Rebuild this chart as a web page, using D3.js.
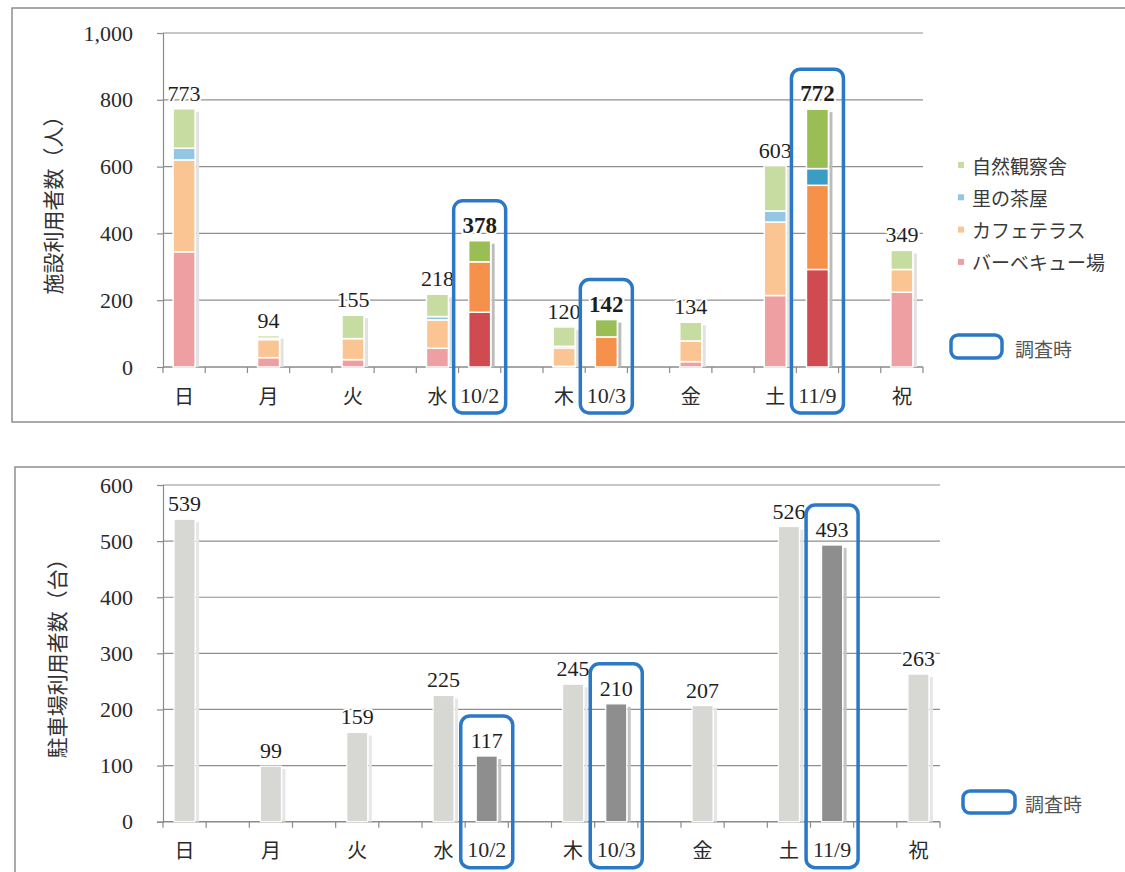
<!DOCTYPE html>
<html><head><meta charset="utf-8">
<script src="https://cdn.jsdelivr.net/npm/d3@7"></script>
<style>body{margin:0;background:#fff} svg{display:block}</style>
</head><body>
<svg id="c" width="1125" height="872"></svg>
<script>
// ---------- data ----------
const slotLabels = ["日","","月","","火","","水","10/2","","木","10/3","","金","","土","11/9","","祝"];
const barDays = ["日","月","火","水","10/2","木","10/3","金","土","11/9","祝"];
const isSurvey = [false,false,false,false,true,false,true,false,false,true,false];
const facilityTotals = [773,94,155,218,378,120,142,134,603,772,349];
const bbq    = [345,28,22,56,164,2,0,16,214,292,224];
const cafe   = [275,54,63,85,151,55,90,62,220,252,68];
const chaya  = [35,4,0,10,0,5,0,0,33,50,0];
const nature = [118,8,70,67,63,58,52,56,136,178,57];
const stackOrder = ["バーベキュー場","カフェテラス","里の茶屋","自然観察舎"];
const legendOrder = ["自然観察舎","里の茶屋","カフェテラス","バーベキュー場"];
const parking = [539,99,159,225,117,245,210,207,526,493,263];
const facilityTicks = [0,200,400,600,800,1000];
const parkingTicks = [0,100,200,300,400,500,600];
const facilityTitle = "施設利用者数（人）";
const parkingTitle = "駐車場利用者数（台）";
const surveyLabel = "調査時";

const paleColor = {"バーベキュー場":"#ed9fa1","カフェテラス":"#fbc593","里の茶屋":"#93c6e3","自然観察舎":"#c7dca1"};
const darkColor = {"バーベキュー場":"#cf4b50","カフェテラス":"#f6914b","里の茶屋":"#3b9dc3","自然観察舎":"#9bbd56"};
const BLUE = "#2b78c6";
const NUM = "'Liberation Serif', 'DejaVu Serif', serif";
const JP = "'Noto Sans CJK JP', sans-serif";
const LBL = "'Liberation Serif', 'Noto Sans CJK JP', serif";

const svg = d3.select("#c");
svg.append("rect").attr("width",1125).attr("height",872).attr("fill","#fff");

// panel borders
svg.append("rect").attr("x",12).attr("y",8).attr("width",1125).attr("height",414)
  .attr("fill","none").attr("stroke","#8e8e8e").attr("stroke-width",1.5);
svg.append("rect").attr("x",15).attr("y",467).attr("width",1125).attr("height",420)
  .attr("fill","none").attr("stroke","#8e8e8e").attr("stroke-width",1.5);

const slotIndex = barDays.map(d => slotLabels.indexOf(d));

function drawFrame(g, x, y, ticks, title, titleX) {
  const [x0, x1] = x.range();
  const base = y(0);
  // gridlines
  g.append("g").selectAll("line").data(ticks.filter(t => t > 0)).join("line")
    .attr("x1", x0).attr("x2", x1).attr("y1", d => y(d)).attr("y2", d => y(d))
    .attr("stroke","#8f8f8f").attr("stroke-width",1.2);
  // y axis
  const ya = g.append("g").attr("transform",`translate(${x0},0)`)
    .call(d3.axisLeft(y).tickValues(ticks).tickFormat(d3.format(",")).tickSize(6).tickPadding(24));
  ya.selectAll("path,line").attr("stroke","#8a8a8a").attr("stroke-width",1.2);
  ya.selectAll("text").attr("font-family",NUM).attr("font-size",22).attr("fill","#2a2a2a");
  // x baseline & boundary ticks
  g.append("line").attr("x1",x0).attr("x2",x1).attr("y1",base).attr("y2",base)
    .attr("stroke","#8a8a8a").attr("stroke-width",1.4);
  const bounds = d3.range(slotLabels.length).map(i => x(i)).concat([x1]);
  g.append("g").selectAll("line").data(bounds).join("line")
    .attr("x1",d=>d).attr("x2",d=>d).attr("y1",base).attr("y2",base+6)
    .attr("stroke","#8a8a8a").attr("stroke-width",1.2);
  // x labels
  g.append("g").selectAll("text").data(slotLabels.map((l,i)=>({l,i})).filter(d=>d.l)).join("text")
    .attr("x", d => x(d.i) + x.bandwidth()/2)
    .attr("y", base + 28)
    .attr("text-anchor","middle").attr("dominant-baseline","central")
    .attr("font-family", d => /\d/.test(d.l) ? NUM : JP)
    .attr("font-size", d => /\d/.test(d.l) ? 22 : 20)
    .attr("fill","#2a2a2a").text(d => d.l);
  // y title
  const [ya0, ya1] = y.range();
  g.append("text").attr("transform",`translate(${titleX},${(ya0+ya1)/2}) rotate(-90)`)
    .attr("text-anchor","middle").attr("dominant-baseline","central")
    .attr("font-family",JP).attr("font-size",21).attr("fill","#333").text(title);
}

function drawSurveyBox(g, cx, topY, base) {
  g.append("rect").attr("x",cx-26).attr("y",topY).attr("width",52).attr("height",base+46-topY)
    .attr("rx",9).attr("fill","none").attr("stroke",BLUE).attr("stroke-width",3.5);
}

// ---------- top chart ----------
const gT = svg.append("g");
const xT = d3.scaleBand().domain(d3.range(slotLabels.length)).range([163,923]);
const yT = d3.scaleLinear().domain([0,1000]).range([367,33]);
drawFrame(gT, xT, yT, facilityTicks, facilityTitle, 52);

const table = barDays.map((d,i)=>({day:d, i, "バーベキュー場":bbq[i], "カフェテラス":cafe[i], "里の茶屋":chaya[i], "自然観察舎":nature[i]}));
const series = d3.stack().keys(stackOrder)(table);
const bwT = 22;
const cxT = i => xT(slotIndex[i]) + xT.bandwidth()/2;

// shadows
gT.append("g").selectAll("rect").data(table).join("rect")
  .attr("x", d => cxT(d.i) + bwT/2 + 1).attr("width",3)
  .attr("y", d => yT(facilityTotals[d.i]) + 3)
  .attr("height", d => yT(0) - yT(facilityTotals[d.i]) - 3)
  .attr("fill", d => isSurvey[d.i] ? "#bcbcbc" : "#e2e2e2");

series.forEach(s => {
  gT.append("g").selectAll("rect").data(s.filter(d => d[1] - d[0] > 0)).join("rect")
    .attr("x", d => cxT(d.data.i) - bwT/2).attr("width", bwT)
    .attr("y", d => yT(d[1])).attr("height", d => yT(d[0]) - yT(d[1]))
    .attr("fill", d => isSurvey[d.data.i] ? darkColor[s.key] : paleColor[s.key])
    .attr("stroke","#fff").attr("stroke-width",1.5);
});

gT.append("g").selectAll("text").data(table).join("text")
  .attr("x", d => cxT(d.i)).attr("y", d => yT(facilityTotals[d.i]) - 8)
  .attr("text-anchor","middle").attr("font-family",NUM)
  .attr("font-size", d => isSurvey[d.i] ? 23 : 22)
  .attr("font-weight", d => isSurvey[d.i] ? "bold" : "normal")
  .attr("fill","#1e1e1e").attr("stroke","#fff").attr("stroke-width",4).attr("paint-order","stroke")
  .text(d => facilityTotals[d.i]);

table.filter(d => isSurvey[d.i]).forEach(d => drawSurveyBox(gT, cxT(d.i), yT(facilityTotals[d.i]) - 40, yT(0)));

// legend
const lg = gT.append("g");
legendOrder.forEach((k,i) => {
  const yy = 165 + i*32.3;
  lg.append("rect").attr("x",958).attr("y",yy-3).attr("width",6).attr("height",6).attr("fill",paleColor[k]);
  lg.append("text").attr("x",972).attr("y",yy).attr("dominant-baseline","central")
    .attr("font-family",JP).attr("font-size",19).attr("fill","#3a3a3a").text(k);
});
lg.append("rect").attr("x",951).attr("y",335).attr("width",51).attr("height",23).attr("rx",7)
  .attr("fill","none").attr("stroke",BLUE).attr("stroke-width",3.5);
lg.append("text").attr("x",1015).attr("y",348).attr("dominant-baseline","central")
  .attr("font-family",JP).attr("font-size",19).attr("fill","#555").text(surveyLabel);

// ---------- bottom chart ----------
const gB = svg.append("g");
const xB = d3.scaleBand().domain(d3.range(slotLabels.length)).range([163,940]);
const yB = d3.scaleLinear().domain([0,600]).range([821.7,485]);
drawFrame(gB, xB, yB, parkingTicks, parkingTitle, 56);
const bwB = 21;
const cxB = i => xB(slotIndex[i]) + xB.bandwidth()/2;
const pdata = parking.map((v,i)=>({v,i}));

gB.append("g").selectAll("rect").data(pdata).join("rect")
  .attr("x", d => cxB(d.i) + bwB/2 + 1).attr("width",3)
  .attr("y", d => yB(d.v) + 3).attr("height", d => yB(0) - yB(d.v) - 3)
  .attr("fill", d => isSurvey[d.i] ? "#c4c4c4" : "#e6e6e6");
gB.append("g").selectAll("rect").data(pdata).join("rect")
  .attr("x", d => cxB(d.i) - bwB/2).attr("width", bwB)
  .attr("y", d => yB(d.v)).attr("height", d => yB(0) - yB(d.v))
  .attr("fill", d => isSurvey[d.i] ? "#8e8e8e" : "#d7d7d3")
  .attr("stroke","#fff").attr("stroke-width",1.2);
gB.append("g").selectAll("text").data(pdata).join("text")
  .attr("x", d => cxB(d.i)).attr("y", d => yB(d.v) - 8)
  .attr("text-anchor","middle").attr("font-family",NUM).attr("font-size",22)
  .attr("fill","#1e1e1e").attr("stroke","#fff").attr("stroke-width",4).attr("paint-order","stroke")
  .text(d => d.v);
pdata.filter(d => isSurvey[d.i]).forEach(d => drawSurveyBox(gB, cxB(d.i), yB(d.v) - 40, yB(0)));

gB.append("rect").attr("x",963).attr("y",791).attr("width",52).attr("height",22).attr("rx",7)
  .attr("fill","none").attr("stroke",BLUE).attr("stroke-width",3.5);
gB.append("text").attr("x",1025).attr("y",803).attr("dominant-baseline","central")
  .attr("font-family",JP).attr("font-size",19).attr("fill","#555").text(surveyLabel);
</script>
</body></html>
